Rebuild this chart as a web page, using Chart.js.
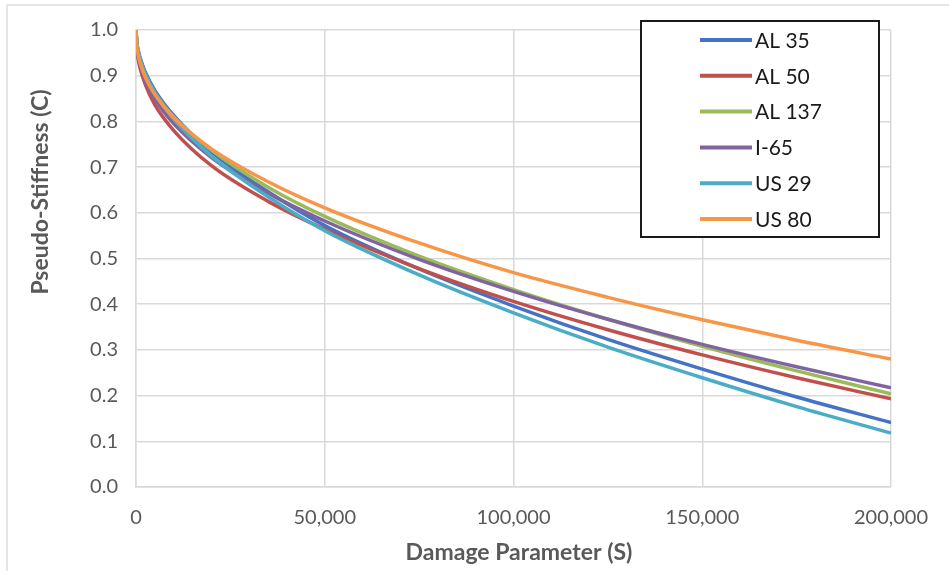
<!DOCTYPE html>
<html>
<head>
<meta charset="utf-8">
<script src="https://cdn.jsdelivr.net/npm/chart.js@4.4.1/dist/chart.umd.min.js"></script>
<style>
  html, body { margin: 0; padding: 0; background: #ffffff; }
  #wrap { width: 949px; height: 571px; }
</style>
</head>
<body>
<div id="wrap"><canvas id="stiffChart" width="949" height="571"></canvas></div>
<script>
// Damage parameter S at which C was sampled
const damageS = [0, 250, 500, 1000, 2500, 5000, 10000, 20000, 35000, 50000, 75000, 100000, 125000, 150000, 175000, 200000];

// Pseudo-stiffness C per mix
const al35  = [1.0, 0.971, 0.959, 0.942, 0.907, 0.868, 0.813, 0.733, 0.646, 0.572, 0.477, 0.396, 0.323, 0.258, 0.197, 0.141];
const al50  = [1.0, 0.956, 0.940, 0.919, 0.880, 0.836, 0.780, 0.703, 0.625, 0.564, 0.478, 0.406, 0.344, 0.289, 0.239, 0.193];
const al137 = [1.0, 0.967, 0.954, 0.936, 0.902, 0.863, 0.810, 0.737, 0.656, 0.592, 0.505, 0.432, 0.367, 0.308, 0.254, 0.204];
const i65   = [1.0, 0.960, 0.946, 0.926, 0.889, 0.849, 0.795, 0.721, 0.643, 0.582, 0.498, 0.428, 0.367, 0.312, 0.263, 0.217];
const us29  = [1.0, 0.970, 0.957, 0.939, 0.903, 0.863, 0.805, 0.724, 0.635, 0.561, 0.464, 0.381, 0.306, 0.239, 0.176, 0.118];
const us80  = [1.0, 0.962, 0.949, 0.931, 0.896, 0.859, 0.808, 0.740, 0.668, 0.611, 0.534, 0.469, 0.415, 0.366, 0.321, 0.280];

const seriesNames  = ['AL 35', 'AL 50', 'AL 137', 'I-65', 'US 29', 'US 80'];
const seriesValues = [al35, al50, al137, i65, us29, us80];
const seriesColors = ['#4472C4', '#C0504D', '#9BBB59', '#8064A2', '#4BACC6', '#F79646'];

const xTicks = [0, 50000, 100000, 150000, 200000];
const yTicks = [0, 0.1, 0.2, 0.3, 0.4, 0.5, 0.6, 0.7, 0.8, 0.9, 1.0];

const FONT = 'Lato, "Open Sans", sans-serif';
const GRID = '#d9d9d9';
const TEXT = '#595959';

// Plot area edges in canvas pixels
const AREA = { left: 136, top: 27, right: 891, bottom: 487 };

const datasets = seriesNames.map((name, i) => ({
  label: name,
  data: damageS.map((s, k) => ({ x: s, y: seriesValues[i][k] })),
  borderColor: seriesColors[i],
  backgroundColor: seriesColors[i],
  borderWidth: 3.5,
  pointRadius: 0,
  fill: false,
  cubicInterpolationMode: 'monotone',
  order: seriesNames.length - i
}));

// Frame, axis titles and boxed legend
const decorPlugin = {
  id: 'decor',
  beforeDraw(chart) {
    const ctx = chart.ctx;
    ctx.save();
    ctx.fillStyle = '#ffffff';
    ctx.fillRect(0, 0, chart.width, chart.height);
    ctx.strokeStyle = '#e6e6e6';
    ctx.lineWidth = 2;
    ctx.beginPath();
    ctx.moveTo(7, chart.height);
    ctx.lineTo(7, 5);
    ctx.lineTo(chart.width, 5);
    ctx.stroke();
    ctx.restore();
  },
  afterDraw(chart) {
    const ctx = chart.ctx;
    ctx.save();

    // axis titles
    ctx.fillStyle = TEXT;
    ctx.font = 'bold 23px ' + FONT;
    ctx.textAlign = 'center';
    ctx.textBaseline = 'middle';
    ctx.fillText('Damage Parameter (S)', 519, 553);
    ctx.translate(41, 192);
    ctx.rotate(-Math.PI / 2);
    ctx.fillText('Pseudo-Stiffness (C)', 0, 0);
    ctx.setTransform(1, 0, 0, 1, 0, 0);

    // legend box
    const box = { x: 641, y: 21, w: 238, h: 216 };
    ctx.fillStyle = '#ffffff';
    ctx.fillRect(box.x, box.y, box.w, box.h);
    ctx.strokeStyle = '#1a1a1a';
    ctx.lineWidth = 2;
    ctx.strokeRect(box.x, box.y, box.w, box.h);

    ctx.font = '21px ' + FONT;
    ctx.textAlign = 'left';
    ctx.textBaseline = 'middle';
    chart.data.datasets.forEach((ds, i) => {
      const y = 40 + i * 35.8;
      ctx.strokeStyle = ds.borderColor;
      ctx.lineWidth = 4;
      ctx.beginPath();
      ctx.moveTo(700, y);
      ctx.lineTo(752, y);
      ctx.stroke();
      ctx.fillStyle = '#1a1a1a';
      ctx.fillText(ds.label, 755, y + 1);
    });
    ctx.restore();
  }
};

new Chart(document.getElementById('stiffChart').getContext('2d'), {
  type: 'line',
  data: { datasets },
  options: {
    responsive: false,
    animation: false,
    layout: { padding: { top: AREA.top, right: 949 - AREA.right, left: 0, bottom: 0 } },
    plugins: { legend: { display: false }, tooltip: { enabled: false } },
    scales: {
      x: {
        type: 'linear',
        min: 0,
        max: 200000,
        afterBuildTicks: (scale) => { scale.ticks = xTicks.map(v => ({ value: v })); },
        afterFit: (scale) => { scale.height = 571 - AREA.bottom; },
        grid: { color: GRID, lineWidth: 1.5, drawTicks: false },
        border: { color: GRID, width: 1.5 },
        ticks: {
          color: TEXT,
          font: { family: FONT, size: 20 },
          padding: 19,
          maxRotation: 0,
          callback: (v) => Number(v).toLocaleString('en-US')
        }
      },
      y: {
        type: 'linear',
        min: 0,
        max: 1,
        afterBuildTicks: (scale) => { scale.ticks = yTicks.map(v => ({ value: v })); },
        afterFit: (scale) => { scale.width = AREA.left; },
        grid: { color: GRID, lineWidth: 1.5, drawTicks: false },
        border: { color: GRID, width: 1.5 },
        ticks: {
          color: TEXT,
          font: { family: FONT, size: 20 },
          padding: 18,
          callback: (v) => Number(v).toFixed(1)
        }
      }
    }
  },
  plugins: [decorPlugin]
});
</script>
</body>
</html>
